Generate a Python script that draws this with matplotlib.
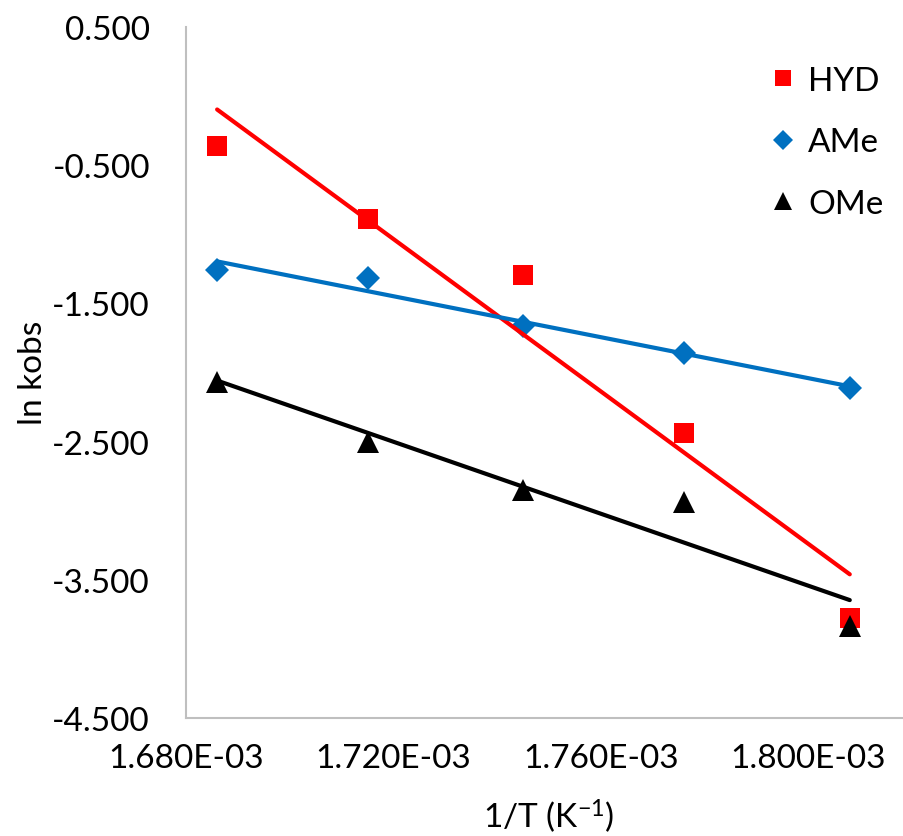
import numpy as np
import matplotlib
matplotlib.use("Agg")
import matplotlib.pyplot as plt
from matplotlib.lines import Line2D
from matplotlib.ticker import FuncFormatter

plt.rcParams['font.family'] = ['Lato', 'DejaVu Sans']
plt.rcParams['mathtext.fontset'] = 'custom'
plt.rcParams['mathtext.rm'] = 'Lato'

# 1/T values (K^-1)
inv_T = [1.686e-3, 1.715e-3, 1.745e-3, 1.776e-3, 1.808e-3]

# ln kobs for each sample
hyd = [-0.364, -0.886, -1.292, -2.439, -3.774]
ame = [-1.256, -1.314, -1.663, -1.859, -2.112]
ome = [-2.069, -2.504, -2.853, -2.940, -3.832]

x_ticks = [1.68e-3, 1.72e-3, 1.76e-3, 1.80e-3]
y_ticks = [0.5, -0.5, -1.5, -2.5, -3.5, -4.5]

series = [
    ("HYD", hyd, "#FF0000", "s", 13.7),
    ("AMe", ame, "#0070C0", "D", 12.5),
    ("OMe", ome, "#000000", "^", 15.5),
]

fig = plt.figure(figsize=(9.04, 8.37), dpi=100)
ax = fig.add_axes([186 / 904, (837 - 719) / 837, (912 - 186) / 904, (719 - 28) / 837])

x = np.array(inv_T)
handles = []
for name, y, col, mk, ms in series:
    ax.plot(x, y, linestyle="none", marker=mk, markersize=ms, color=col,
            markeredgewidth=0, zorder=3)
    handles.append(Line2D([], [], linestyle="none", marker=mk, markersize=ms * 0.85,
                          color=col, markeredgewidth=0, label=name))

# linear trendlines
for name, y, col, mk, ms in series:
    a, b = np.polyfit(x, y, 1)
    xs = np.array([x.min(), x.max()])
    ax.plot(xs, a * xs + b, color=col, linewidth=3, solid_capstyle="round", zorder=4)

ax.set_xlim(1.68e-3, 1.82e-3)
ax.set_ylim(-4.5, 0.5)
ax.set_xticks(x_ticks)
ax.set_yticks(y_ticks)
ax.xaxis.set_major_formatter(FuncFormatter(lambda v, p: f"{v:.3E}"))
ax.yaxis.set_major_formatter(FuncFormatter(lambda v, p: f"{v:.3f}"))
ax.tick_params(axis="both", length=0, labelsize=24)
ax.tick_params(axis="y", pad=26)
ax.tick_params(axis="x", pad=18)

for s in ["top", "right"]:
    ax.spines[s].set_visible(False)
for s in ["left", "bottom"]:
    ax.spines[s].set_color("#BFBFBF")
    ax.spines[s].set_linewidth(1.5)

fig.text(33 / 904, 1 - 373 / 837, "ln kobs", rotation=90, ha="center", va="center", fontsize=24)
fig.text(549 / 904, 1 - 816 / 837, r"1/T (K$\mathregular{^{-1}}$)", ha="center", va="center", fontsize=24)

ax.legend(handles=handles, loc="upper right", bbox_to_anchor=(900 / 904, 1 - 50 / 837),
          bbox_transform=fig.transFigure, frameon=False, fontsize=24,
          handlelength=0.6, handletextpad=0.45, labelspacing=0.95, borderpad=0)

fig.savefig("out.png", dpi=100)
